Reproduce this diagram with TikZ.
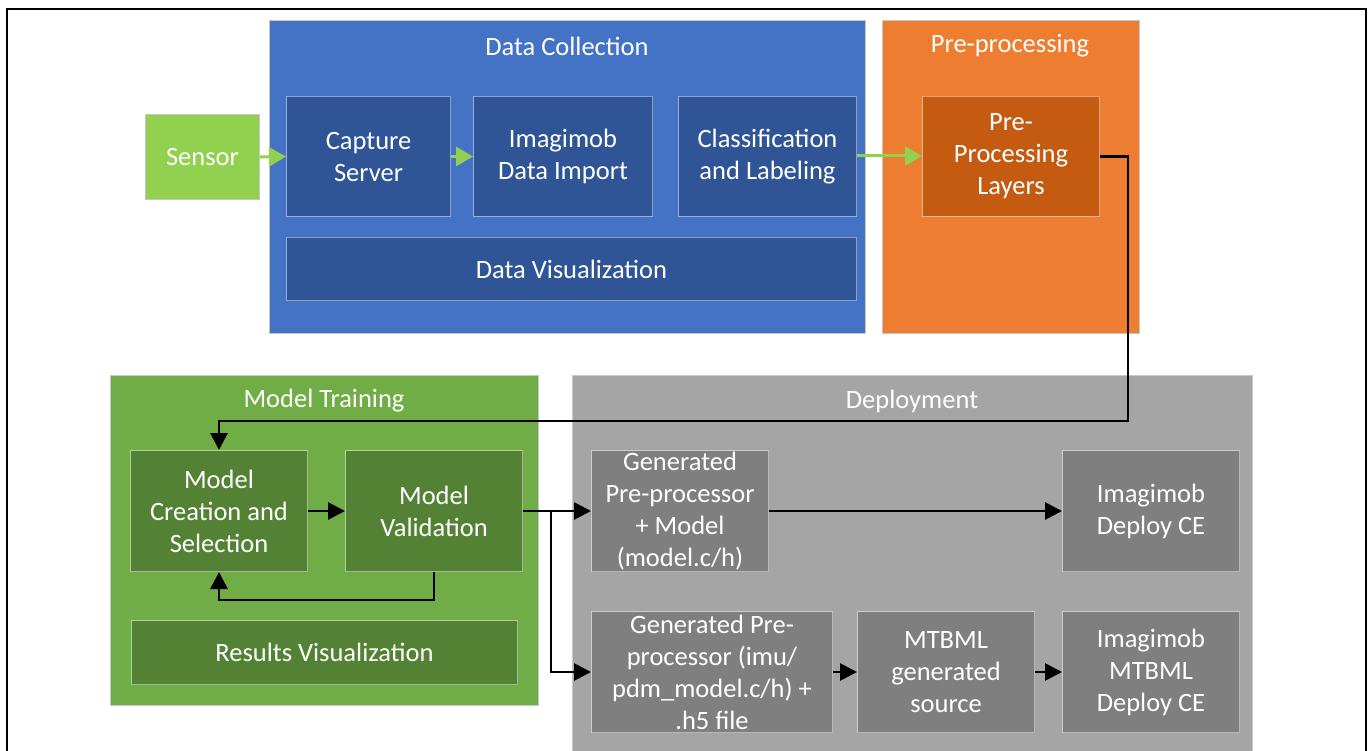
\documentclass[tikz,border=0pt]{standalone}
\usepackage{fontspec}
\setmainfont{Carlito}
\usetikzlibrary{arrows.meta}
\definecolor{dcblue}{HTML}{4472C4}
\definecolor{dcdark}{HTML}{2F5597}
\definecolor{ppor}{HTML}{ED7D31}
\definecolor{ppdark}{HTML}{C55A11}
\definecolor{mtgreen}{HTML}{70AD47}
\definecolor{mtdark}{HTML}{548235}
\definecolor{dpgray}{HTML}{A5A5A5}
\definecolor{dpdark}{HTML}{7F7F7F}
\definecolor{sensorg}{HTML}{92D050}
\tikzset{
  cont/.style={draw=black!22, line width=1pt, anchor=north west, inner sep=0pt},
  inbox/.style={draw=white, draw opacity=0.45, line width=1pt, anchor=north west, inner sep=0pt,
    text=white, align=center, font=\fontsize{26.5}{32}\selectfont},
  dbox/.style={inbox},
  ttl/.style={text=white, font=\fontsize{26.5}{30}\selectfont, inner sep=0pt},
  dttl/.style={ttl},
  garrow/.style={draw=sensorg, line width=3pt, -{Triangle[length=17pt,width=19pt]}},
  barrow/.style={draw=black, line width=2.8pt, -{Triangle[length=17pt,width=17pt]}},
}
\begin{document}
\begin{tikzpicture}[x=1pt,y=-1pt]
\useasboundingbox (0,0) rectangle (1370,751);
\fill[white] (0,0) rectangle (1370,751);
% outer frame
\draw[line width=2.2pt] (7,752) -- (7,9) -- (1366,9) -- (1366,752);

% containers
\node[cont, fill=dcblue, minimum width=596pt, minimum height=313pt] (dc) at (269,20) {};
\node[ttl] (dct) at (567,46) {Data Collection};
\node[cont, fill=ppor, minimum width=257pt, minimum height=313pt] (pp) at (882,20) {};
\node[ttl] (ppt) at (1010,46) {Pre-processing};
\node[cont, fill=mtgreen, minimum width=428pt, minimum height=330pt] (mt) at (110,375) {};
\node[ttl] (mtt) at (324,401) {Model Training};
\node[cont, fill=dpgray, minimum width=680pt, minimum height=376pt] (dp) at (572,375) {};
\node[dttl] (dpt) at (912,401) {Deployment};

% sensor
\node[cont, fill=sensorg, minimum width=114pt, minimum height=85pt, text=white,
  font=\fontsize{26.5}{32}\selectfont] (sen) at (145,114) {Sensor};

% data collection boxes
\node[inbox, fill=dcdark, minimum width=164pt, minimum height=120pt] (cap) at (286,96) {Capture\\Server};
\node[inbox, fill=dcdark, minimum width=179pt, minimum height=120pt] (imp) at (473,96) {Imagimob\\Data Import};
\node[inbox, fill=dcdark, minimum width=178pt, minimum height=120pt] (cls) at (678,96) {Classification\\and Labeling};
\node[inbox, fill=dcdark, minimum width=570pt, minimum height=63pt] (vis) at (286,237) {Data Visualization};

% pre-processing
\node[inbox, fill=ppdark, minimum width=177pt, minimum height=120pt] (ppl) at (922,96) {Pre-\\Processing\\Layers};

% model training
\node[inbox, fill=mtdark, minimum width=177pt, minimum height=121pt] (mcs) at (130,450) {Model\\Creation and\\Selection};
\node[inbox, fill=mtdark, minimum width=177pt, minimum height=121pt] (mv) at (345,450) {Model\\Validation};
\node[inbox, fill=mtdark, minimum width=386pt, minimum height=64pt] (rv) at (131,620) {Results Visualization};

% deployment
\node[dbox, fill=dpdark, minimum width=177pt, minimum height=121pt] (gpm) at (591,450) {Generated\\Pre-processor\\+ Model\\(model.c/h)};
\node[dbox, fill=dpdark, minimum width=177pt, minimum height=121pt] (ide) at (1062,450) {Imagimob\\Deploy CE};
\node[dbox, fill=dpdark, minimum width=241pt, minimum height=121pt] (gpi) at (591,611) {Generated Pre-\\processor (imu/\\pdm\_model.c/h) +\\.h5 file};
\node[dbox, fill=dpdark, minimum width=177pt, minimum height=121pt] (mtb) at (857,611) {MTBML\\generated\\source};
\node[dbox, fill=dpdark, minimum width=177pt, minimum height=121pt] (imd) at (1062,611) {Imagimob\\MTBML\\Deploy CE};

% green arrows
\draw[garrow] (sen.east) -- (cap.west);
\draw[garrow] (cap.east) -- (imp.west);
\draw[garrow] (cls.east |- 0,156) -- (ppl.west |- 0,156);

% black connectors
\coordinate (c1) at (1128,421);
\draw[barrow] (ppl.east) -| (c1) -| (mcs.north);
\draw[barrow] (mcs.east) -- (mv.west);
\coordinate (fb) at (434,600);
\draw[barrow] (fb |- mv.south) -- (fb) -| (mcs.south);
\coordinate (sp) at (551,511);
\draw[barrow] (mv.east) -- (gpm.west);
\draw[barrow] (sp) |- (gpi.west);
\draw[barrow] (gpm.east) -- (ide.west);
\draw[barrow] (gpi.east) -- (mtb.west);
\draw[barrow] (mtb.east) -- (imd.west);
\end{tikzpicture}
\end{document}
